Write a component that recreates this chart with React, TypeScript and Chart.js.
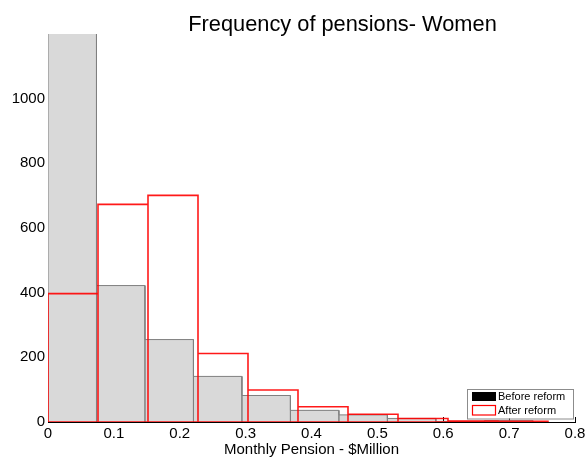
import React, { useEffect, useRef } from "react";
import { Chart, registerables } from "chart.js";

Chart.register(...registerables);

const chartTitle = "Frequency of pensions- Women";
const xAxisTitle = "Monthly Pension - $Million";
const seriesNames = ["Before reform", "After reform"];

// bin edges (Monthly pension, $Million)
const beforeEdges = [0, 0.0736, 0.1472, 0.2208, 0.2944, 0.368, 0.4416, 0.5152, 0.5888, 0.6624, 0.736];
const afterEdges = [0, 0.0759, 0.1518, 0.2277, 0.3036, 0.3795, 0.4554, 0.5313, 0.6072, 0.6831, 0.759];

// counts per bin
const beforeCounts = [1450, 422, 255, 141, 82, 36, 22, 11, 2, 4];
const afterCounts = [397, 673, 701, 212, 99, 47, 24, 11, 3, 2];

const xTicks = [0, 0.1, 0.2, 0.3, 0.4, 0.5, 0.6, 0.7, 0.8];
const yTicks = [0, 200, 400, 600, 800, 1000, 1200];

const FONT = "'Liberation Sans', Arial, Helvetica, sans-serif";

function histPoints(edges: number[], counts: number[], withBaseline: boolean) {
  const pts: { x: number; y: number }[] = [];
  if (withBaseline) pts.push({ x: edges[edges.length - 1], y: 0 });
  for (let i = 0; i < counts.length; i++) {
    pts.push({ x: edges[i], y: 0 });
    pts.push({ x: edges[i], y: counts[i] });
    pts.push({ x: edges[i + 1], y: counts[i] });
    pts.push({ x: edges[i + 1], y: 0 });
  }
  return pts;
}

const titlePlugin = {
  id: "customTitle",
  afterDraw(chart: any) {
    const ctx = chart.ctx;
    const ca = chart.chartArea;
    ctx.save();
    ctx.font = `21.8px ${FONT}`;
    ctx.fillStyle = "#000";
    ctx.textAlign = "center";
    ctx.textBaseline = "alphabetic";
    ctx.fillText(chartTitle, (ca.left + ca.right) / 2 + 31, 30.5);
    ctx.restore();
  },
};

const legendPlugin = {
  id: "customLegend",
  afterDraw(chart: any) {
    const ctx = chart.ctx;
    const ca = chart.chartArea;
    const w = 106;
    const h = 29.5;
    const x = ca.right - 2 - w;
    const y = ca.bottom - 3.5 - h;
    ctx.save();
    ctx.fillStyle = "#fff";
    ctx.fillRect(x, y, w, h);
    ctx.strokeStyle = "#8c8c8c";
    ctx.lineWidth = 1;
    ctx.strokeRect(Math.round(x) + 0.5, Math.round(y) + 0.5, w, h);
    ctx.fillStyle = "#000";
    ctx.fillRect(x + 5, y + 3, 24, 9);
    ctx.strokeStyle = "#ff0000";
    ctx.lineWidth = 1.2;
    ctx.strokeRect(x + 5.5, y + 16.5, 23, 9.5);
    ctx.font = `11px ${FONT}`;
    ctx.fillStyle = "#000";
    ctx.textAlign = "left";
    ctx.textBaseline = "middle";
    ctx.fillText(seriesNames[0], x + 31, y + 7.5);
    ctx.fillText(seriesNames[1], x + 31, y + 22);
    ctx.restore();
  },
};

export default function App() {
  const ref = useRef<HTMLCanvasElement | null>(null);

  useEffect(() => {
    if (!ref.current) return;
    const chart = new Chart(ref.current, {
      type: "line",
      data: {
        datasets: [
          {
            label: seriesNames[1],
            data: histPoints(afterEdges, afterCounts, true),
            borderColor: "rgba(255,0,0,0.9)",
            borderWidth: 1.6,
            backgroundColor: "transparent",
            fill: false,
            pointRadius: 0,
            tension: 0,
            order: 1,
          },
          {
            label: seriesNames[0],
            data: histPoints(beforeEdges, beforeCounts, false),
            borderColor: "#808080",
            borderWidth: 1,
            backgroundColor: "#d9d9d9",
            fill: "origin",
            pointRadius: 0,
            tension: 0,
            order: 2,
          },
        ],
      },
      options: {
        responsive: false,
        animation: false,
        parsing: false,
        layout: { padding: { top: 34, right: 13, left: 0, bottom: 0 } },
        plugins: {
          legend: { display: false },
          tooltip: { enabled: false },
          title: { display: false },
          filler: { propagate: false },
        },
        scales: {
          x: {
            type: "linear",
            min: 0,
            max: 0.8,
            afterBuildTicks: (scale: any) => {
              scale.ticks = xTicks.map((v) => ({ value: v }));
            },
            afterFit: (scale: any) => {
              scale.height = 35;
              scale.paddingRight = 0;
              scale.paddingLeft = 0;
            },
            ticks: {
              color: "#000",
              font: { family: FONT, size: 15 },
              padding: 8,
              maxRotation: 0,
              autoSkip: false,
              callback: (v: any) => (Number(v) === 0 ? "0" : Number(v).toFixed(1)),
            },
            grid: {
              display: true,
              drawOnChartArea: false,
              drawTicks: true,
              tickLength: -5,
              color: "#000",
            },
            border: { display: true, color: "#000", width: 1 },
            title: {
              display: true,
              text: xAxisTitle,
              color: "#000",
              font: { family: FONT, size: 15, lineHeight: 1 },
              padding: { top: 0, bottom: 0 },
            },
          },
          y: {
            type: "linear",
            min: 0,
            max: 1200,
            afterBuildTicks: (scale: any) => {
              scale.ticks = yTicks.map((v) => ({ value: v }));
            },
            afterFit: (scale: any) => {
              scale.width = 48;
              scale.paddingTop = 0;
              scale.paddingBottom = 0;
            },
            ticks: {
              color: "#000",
              font: { family: FONT, size: 15 },
              padding: 8,
              autoSkip: false,
              callback: (v: any) => (Number(v) === 1200 ? "" : String(v)),
            },
            grid: {
              display: true,
              drawOnChartArea: false,
              drawTicks: true,
              tickLength: -5,
              color: "#000",
            },
            border: { display: true, color: "#000", width: 1 },
          },
        },
      },
      plugins: [titlePlugin, legendPlugin],
    } as any);
    return () => chart.destroy();
  }, []);

  return (
    <div style={{ position: "absolute", left: 0, top: 0, width: 588, height: 457, background: "#fff" }}>
      <canvas ref={ref} width={588} height={457} style={{ display: "block" }} />
    </div>
  );
}
